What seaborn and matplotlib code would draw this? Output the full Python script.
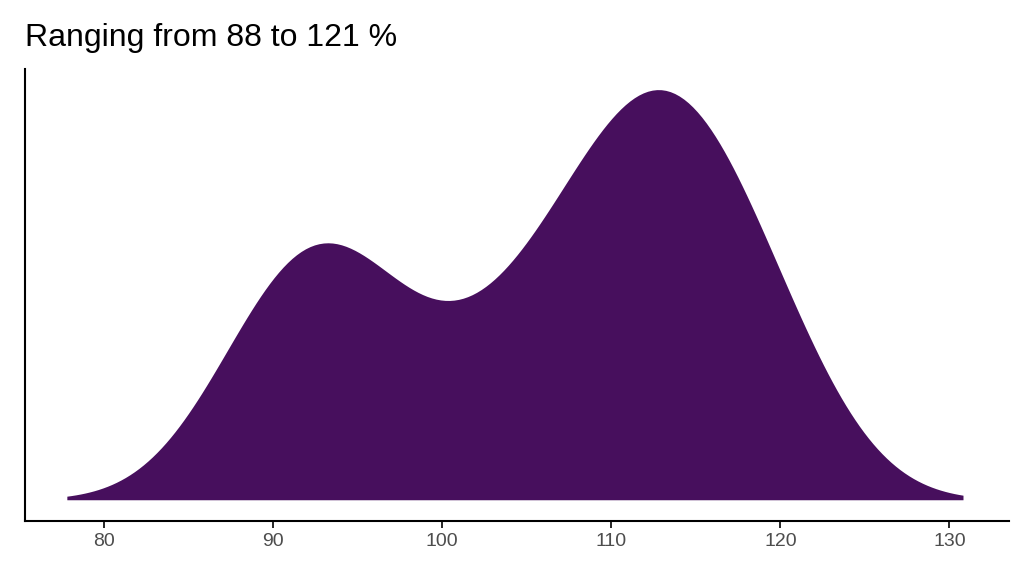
import matplotlib
matplotlib.use("Agg")
import matplotlib.pyplot as plt
import seaborn as sns
import numpy as np

values = [88, 90, 92, 93, 94, 96, 99, 103, 105, 107, 109, 110, 111, 112, 113, 114, 115, 116, 117, 119, 121]
title = "Ranging from 88 to 121 %"
xticks = [80, 90, 100, 110, 120, 130]

sns.set_style("white")
plt.rcParams['font.family'] = ['Liberation Sans', 'DejaVu Sans']
fig, ax = plt.subplots(figsize=(10.24, 5.76), dpi=100)
sns.kdeplot(x=values, fill=True, bw_adjust=0.75, cut=3, clip=(77.8, 130.8),
            color="#470F5D", alpha=1, linewidth=0, ax=ax)
ax.set_xticks(xticks)
ax.set_xticklabels([str(t) for t in xticks], fontsize=14, color="#4D4D4D")
ax.set_yticks([])
ax.set_xlabel(""); ax.set_ylabel("")
ax.set_xlim(75.3, 133.5)
ymax = ax.get_ylim()[1]
ax.set_ylim(-ymax * 0.05, ymax)
for s in ["top", "right"]:
    ax.spines[s].set_visible(False)
for s in ["left", "bottom"]:
    ax.spines[s].set_color("black"); ax.spines[s].set_linewidth(1.5)
ax.tick_params(axis="x", length=5, width=1.2, color="black", bottom=True)
fig.text(0.024, 0.92, title, fontsize=23, ha="left", color="black")
plt.subplots_adjust(left=0.024, right=0.985, top=0.88, bottom=0.095)
fig.savefig("out.png", dpi=100)
